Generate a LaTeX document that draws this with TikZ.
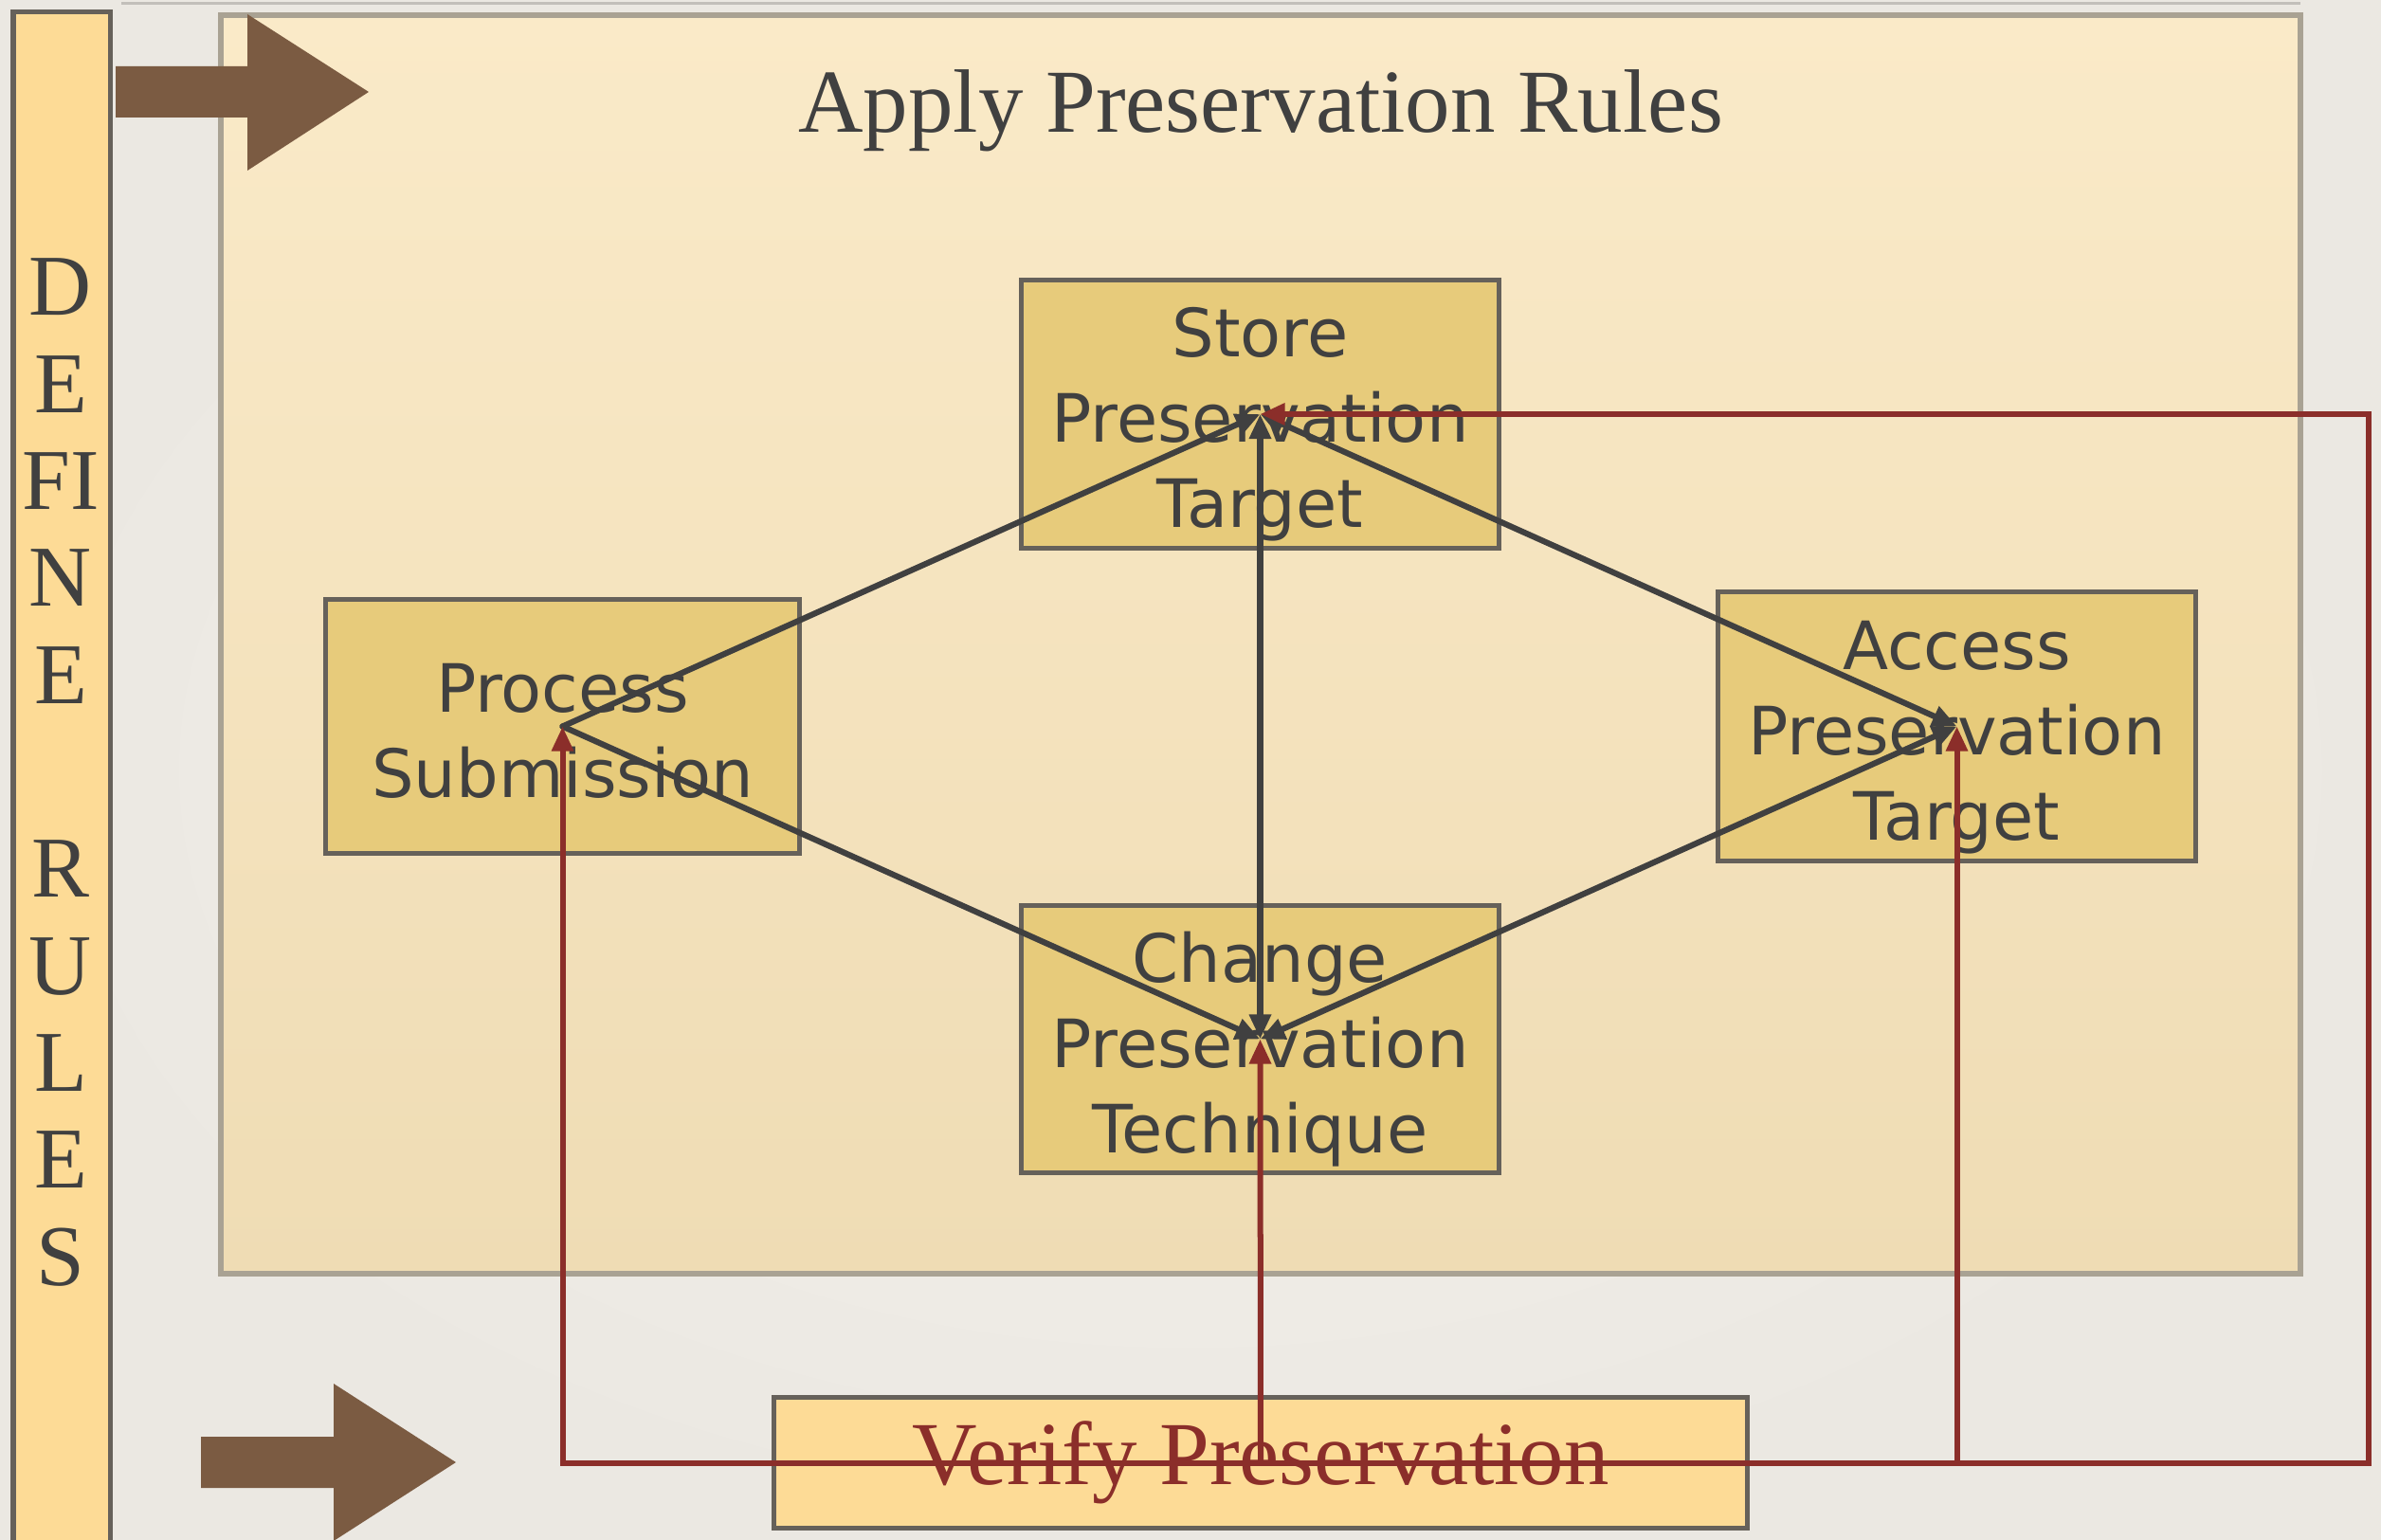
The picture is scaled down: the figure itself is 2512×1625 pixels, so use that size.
\documentclass[tikz,border=0pt]{standalone}
\usepackage{fontspec}
\setmainfont{Liberation Serif}
\newfontfamily\sansf{DejaVu Sans}
\usetikzlibrary{arrows.meta}
\definecolor{paper}{HTML}{F5F2EC}
\definecolor{paperedge}{HTML}{EBE8E2}
\definecolor{barfill}{HTML}{FDDB96}
\definecolor{boxfill}{HTML}{E7CB7B}
\definecolor{boxline}{HTML}{66615A}
\definecolor{panelline}{HTML}{A9A293}
\definecolor{paneltop}{HTML}{FAEAC8}
\definecolor{panelbot}{HTML}{EFDCB4}
\definecolor{brownarrow}{HTML}{7B5B42}
\definecolor{ink}{HTML}{404040}
\definecolor{redink}{HTML}{8B2E2A}
\definecolor{topline}{HTML}{C2BFBA}
\tikzset{
  procbox/.style={draw=boxline, fill=boxfill, line width=0.05cm, rectangle, inner sep=0pt},
  proctext/.style={inner sep=0pt, align=center, text=ink,
    font=\sansf\fontsize{20pt}{25.6pt}\selectfont},
  flow/.style={draw=ink, line width=0.062cm, line cap=round, line join=round},
  verifyflow/.style={draw=redink, line width=0.06cm, line join=miter},
  tip/.style={-{Triangle[length=0.26cm,width=0.22cm]}},
  bitip/.style={{Triangle[length=0.26cm,width=0.22cm]}-{Triangle[length=0.26cm,width=0.22cm]}},
}
\begin{document}
\begin{tikzpicture}[x=0.01cm, y=-0.01cm]
\useasboundingbox (0,0) rectangle (2512,1625);
\shade[inner color=paper, outer color=paperedge] (0,0) rectangle (2512,1625);
% thin top rule
\draw[topline, line width=0.03cm] (128,4) -- (2427,4);
% main panel
\shade[top color=paneltop, bottom color=panelbot] (233,16) rectangle (2427,1344);
\draw[panelline, line width=0.055cm] (233,16) rectangle (2427,1344);
\node[text=ink, font=\fontsize{27pt}{30pt}\selectfont, anchor=base, inner sep=0pt] (title) at (1330,140) {Apply Preservation Rules};
% left bar
\draw[boxline, fill=barfill, line width=0.05cm] (14,13) rectangle (116,1660);
\node[text=ink, font=\fontsize{26pt}{29.1pt}\selectfont, align=center, inner sep=0pt] (define) at (64,815)
  {D\\E\\FI\\N\\E\\\mbox{}\\R\\U\\L\\E\\S};
% big brown arrows
\fill[brownarrow] (122,70) -- (261,70) -- (261,15) -- (389,97) -- (261,180) -- (261,124) -- (122,124) -- cycle;
\fill[brownarrow] (212,1516) -- (352,1516) -- (352,1460) -- (481,1543) -- (352,1626) -- (352,1570) -- (212,1570) -- cycle;
% process boxes
\node[procbox, minimum width=5.03cm, minimum height=2.82cm] (store) at (1329.5,437) {};
\node[proctext] (storetext) at (1329.5,448) {Store\\Preservation\\Target};
\node[procbox, minimum width=4.99cm, minimum height=2.67cm] (process) at (593.5,766.5) {};
\node[proctext] (processtext) at (593.5,771) {Process\\Submission};
\node[procbox, minimum width=5.03cm, minimum height=2.83cm] (access) at (2064.5,766.5) {};
\node[proctext] (accesstext) at (2064.5,778) {Access\\Preservation\\Target};
\node[procbox, minimum width=5.03cm, minimum height=2.81cm] (change) at (1329.5,1096.5) {};
\node[proctext] (changetext) at (1329.5,1107) {Change\\Preservation\\Technique};
\node[draw=boxline, fill=barfill, line width=0.05cm, minimum width=10.26cm, minimum height=1.38cm, inner sep=0pt,
  text=redink, font=\fontsize{27pt}{30pt}\selectfont] (verify) at (1330,1543.5) {Verify Preservation};
% dark connectors
\draw[flow, tip] (process.center) -- (store.center);
\draw[flow, tip] (process.center) -- (change.center);
\draw[flow, bitip] (store.center) -- (change.center);
\draw[flow, bitip] (store.center) -- (access.center);
\draw[flow, bitip] (change.center) -- (access.center);
% red verification connectors
\coordinate (rturn) at (2499,437);
\draw[verifyflow, tip] (verify.center) -| (process.center);
\draw[verifyflow, tip] (verify.center) -- (change.center);
\draw[verifyflow, tip] (verify.center) -| (access.center);
\draw[verifyflow, tip] (verify.center) -| (rturn) -- (store.center);
\end{tikzpicture}
\end{document}
